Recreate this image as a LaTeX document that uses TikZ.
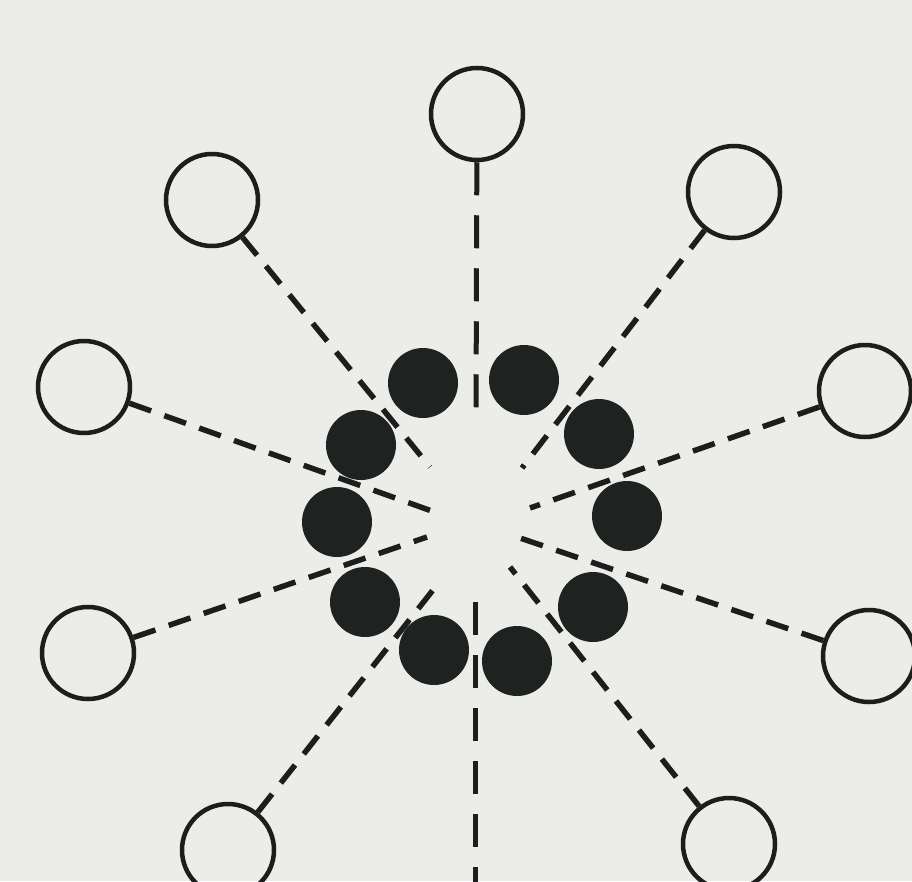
\documentclass[tikz,border=0pt]{standalone}
\usepackage{xcolor}
\definecolor{paper}{RGB}{236,236,232}
\definecolor{ink}{RGB}{28,30,29}
\definecolor{blob}{RGB}{30,34,32}
\begin{document}
\begin{tikzpicture}[x=1pt,y=-1pt,
  outer/.style={circle,draw=ink,line width=4.5pt,minimum size=92pt,inner sep=0pt},
  inner/.style={circle,fill=blob,minimum size=70pt,inner sep=0pt},
  dashline/.style={draw=ink,line width=5.5pt,dash pattern=on 23pt off 14pt},
  vline/.style={draw=ink,line width=5pt,dash pattern=on 33pt off 20pt}]
\fill[paper] (0,0) rectangle (912,881);
\useasboundingbox (0,0) rectangle (912,881);
% outer open circles
\node[outer] (t)  at (477,114) {};
\node[outer] (ul) at (212,200) {};
\node[outer] (ur) at (734,192) {};
\node[outer] (l)  at (84,387) {};
\node[outer] (r)  at (865,391) {};
\node[outer] (ll) at (88,653) {};
\node[outer] (lr) at (869,656) {};
\node[outer] (bl) at (228,850) {};
\node[outer] (br) at (729,844) {};
% inner ends of the dashed lines
\coordinate (ct)  at (476,417);
\coordinate (cul) at (430,467);
\coordinate (cur) at (522,468);
\coordinate (cl)  at (443,515);
\coordinate (cr)  at (530,508);
\coordinate (cll) at (427,537);
\coordinate (clr) at (517,537);
\coordinate (cbl) at (433,590);
\coordinate (cbr) at (510,567);
\coordinate (cb)  at (475,602);
\coordinate (eb)  at (475,890);
% dashed lines
\draw[vline] (t) -- (ct);
\draw[dashline] (ul) -- (cul);
\draw[dashline] (ur) -- (cur);
\draw[dashline] (l) -- (cl);
\draw[dashline] (r) -- (cr);
\draw[dashline] (ll) -- (cll);
\draw[dashline] (lr) -- (clr);
\draw[dashline] (bl) -- (cbl);
\draw[dashline] (br) -- (cbr);
\draw[vline] (cb) -- (eb);
% inner filled ring
\node[inner] (i1)  at (423,383) {};
\node[inner] (i2)  at (524,380) {};
\node[inner] (i3)  at (599,434) {};
\node[inner] (i4)  at (627,516) {};
\node[inner] (i5)  at (593,607) {};
\node[inner] (i6)  at (517,661) {};
\node[inner] (i7)  at (434,650) {};
\node[inner] (i8)  at (365,602) {};
\node[inner] (i9)  at (337,522) {};
\node[inner] (i10) at (361,445) {};
\end{tikzpicture}
\end{document}
